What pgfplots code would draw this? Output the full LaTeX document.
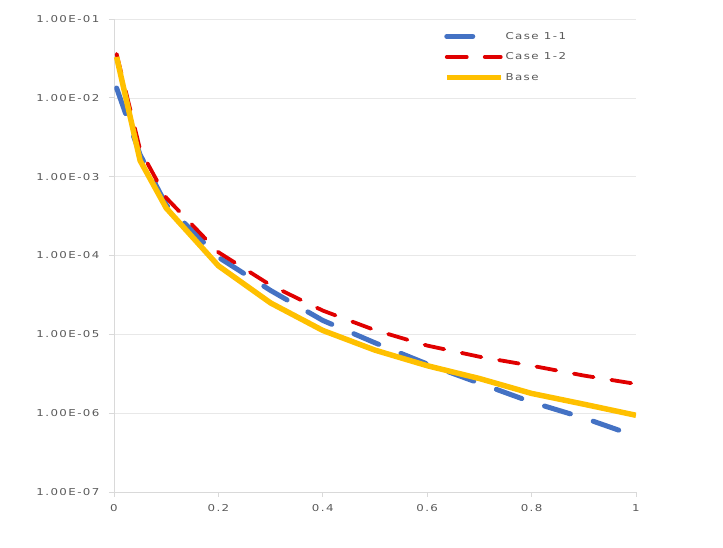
\documentclass[border=0pt]{standalone}
\usepackage{fontspec}
\usepackage{pgfplots}
\pgfplotsset{compat=1.18}
\setmainfont{DejaVu Sans}
\newfontfamily\tickfont[FakeStretch=1.25, LetterSpace=15]{DejaVu Sans}
\definecolor{cblue}{HTML}{4472C4}
\definecolor{cred}{HTML}{E00000}
\definecolor{cyel}{HTML}{FFC000}
\definecolor{tgray}{HTML}{595959}
\definecolor{agray}{HTML}{D9D9D9}
\begin{document}
\begin{tikzpicture}
\begin{axis}[
  scale only axis,
  width=522bp, height=473bp,
  ymode=log,
  xmin=0, xmax=1, ymin=1e-7, ymax=1e-1,
  xtick={0,0.2,0.4,0.6,0.8,1},
  xticklabels={0,0.2,0.4,0.6,0.8,1},
  ytick={1e-7,1e-6,1e-5,1e-4,1e-3,1e-2,1e-1},
  yticklabels={1.00E-07,1.00E-06,1.00E-05,1.00E-04,1.00E-03,1.00E-02,1.00E-01},
  minor ytick={},
  log basis y=10,
  axis x line*=bottom, axis y line*=left,
  axis line style={agray, line width=0.8pt, -},
  major tick length=5bp,
  tick align=outside,
  tick style={agray, line width=0.8pt},
  ymajorgrids, grid style={draw=agray!60, line width=0.6pt},
  yticklabel style={font=\tickfont\fontsize{9.5}{11}\selectfont, text=tgray, xshift=-6bp},
  xticklabel style={font=\tickfont\fontsize{9.5}{11}\selectfont, text=tgray, yshift=-4bp},
  legend style={at={(0.628,0.981)}, anchor=north west, draw=none, fill=none,
    font=\tickfont\fontsize{9.5}{11}\selectfont, text=tgray, row sep=8bp,
    inner sep=2bp, cells={anchor=west}},
  legend image code/.code={\draw[#1] (0bp,0bp) -- (54bp,0bp);},
]
\addplot[cblue, line width=5bp, dash pattern=on 27bp off 24bp, line cap=round,
  legend image post style={dash pattern=on 26bp off 30bp}] coordinates {
(0.005,1.33e-2) (0.05,1.9e-3) (0.1,4.4e-4) (0.2,9.5e-5) (0.3,3.6e-5) (0.4,1.5e-5)
(0.5,7.8e-6) (0.6,4.2e-6) (0.7,2.4e-6) (0.8,1.38e-6) (0.9,8.7e-7) (1.0,5.1e-7)};
\addlegendentry{Case 1-1}
\addplot[cred, line width=3.8bp, dash pattern=on 20bp off 18bp, line cap=round] coordinates {
(0.005,3.6e-2) (0.05,2.2e-3) (0.1,5.4e-4) (0.2,1.1e-4) (0.3,4.2e-5) (0.4,2.0e-5)
(0.5,1.13e-5) (0.6,7.2e-6) (0.7,5.2e-6) (0.8,4.0e-6) (0.9,3.0e-6) (1.0,2.35e-6)};
\addlegendentry{Case 1-2}
\addplot[cyel, line width=5.5bp, line join=round] coordinates {
(0.005,3.3e-2) (0.05,1.6e-3) (0.1,4.0e-4) (0.2,7.4e-5) (0.3,2.5e-5) (0.4,1.12e-5)
(0.5,6.3e-6) (0.6,4.0e-6) (0.7,2.75e-6) (0.8,1.78e-6) (0.9,1.3e-6) (1.0,9.4e-7)};
\addlegendentry{Base}
\end{axis}
\path (current axis.south west) ++(-114bp,-56bp) coordinate (bbl);
\path (current axis.north east) ++(87bp,19bp) coordinate (btr);
\useasboundingbox (bbl) rectangle (btr);
\end{tikzpicture}
\end{document}
